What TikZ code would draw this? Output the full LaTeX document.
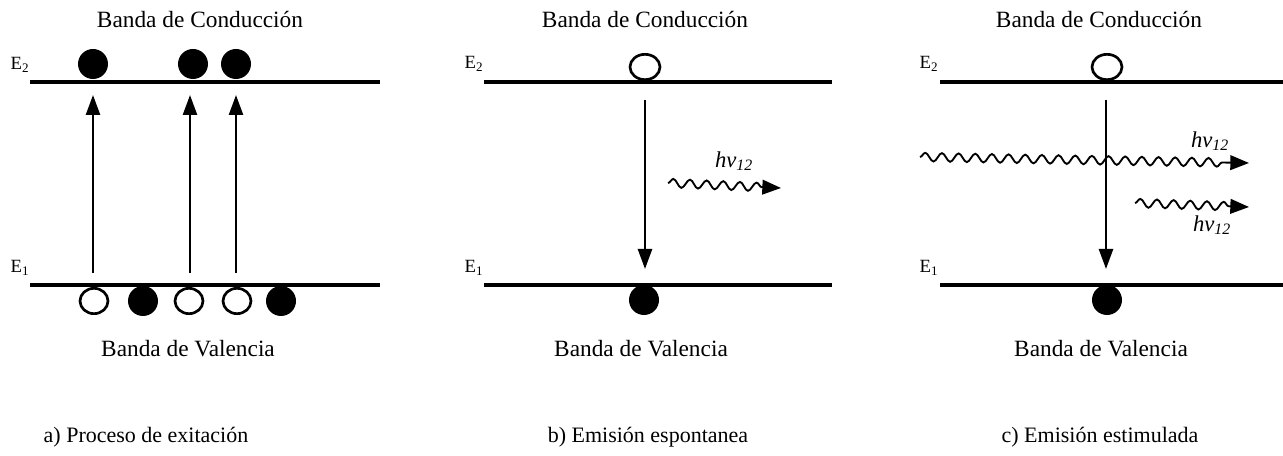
\documentclass[tikz,border=0pt]{standalone}
\usepackage{fontspec}
\setmainfont{Liberation Serif}
\usetikzlibrary{arrows.meta,decorations.pathmorphing,shapes.geometric}
\begin{document}
\begin{tikzpicture}[x=0.75pt,y=-0.75pt,
  level/.style={line width=2.7pt},
  full/.style={circle,fill=black,minimum size=22.5pt,inner sep=0pt},
  hole/.style={ellipse,draw=black,line width=2pt,fill=white,minimum width=21pt,minimum height=19pt,inner sep=0pt},
  trans/.style={line width=1.9pt,-{Triangle[length=15pt,width=10.5pt]}},
  photon/.style={line width=1.4pt,decorate,decoration={snake,amplitude=3.2pt,segment length=12.5pt,post length=14pt},-{Triangle[length=14pt,width=11pt]}},
  band/.style={font=\fontsize{17.5}{20}\selectfont},
  capt/.style={font=\fontsize{16.5}{19}\selectfont},
  elev/.style={font=\fontsize{14}{16}\selectfont},
  hv/.style={font=\fontsize{17}{19}\selectfont\itshape}
]
\useasboundingbox (0,0) rectangle (1283,456);

% ---------------- panel a ----------------
\node[band] (a-cb) at (200,20) {Banda de Conducción};
\node[elev] (a-E2) at (20,65) {E\textsubscript{2}};
\node[elev] (a-E1) at (20,268) {E\textsubscript{1}};
\coordinate (a-l2s) at (30,82); \coordinate (a-l2e) at (380,82);
\coordinate (a-l1s) at (30,285); \coordinate (a-l1e) at (380,285);
\draw[level] (a-l2s) -- (a-l2e);
\draw[level] (a-l1s) -- (a-l1e);
\node[full] (a-t1) at (93,64) {};
\node[full] (a-t2) at (193,64) {};
\node[full] (a-t3) at (236,64) {};
\node[hole] (a-b1) at (94,301) {};
\node[full] (a-b2) at (143,301) {};
\node[hole] (a-b3) at (189,301) {};
\node[hole] (a-b4) at (237,301) {};
\node[full] (a-b5) at (281,301) {};
\coordinate (a-s1) at (93,273); \coordinate (a-e1) at (93,95);
\coordinate (a-s2) at (190,273); \coordinate (a-e2) at (190,95);
\coordinate (a-s3) at (236,273); \coordinate (a-e3) at (236,95);
\draw[trans] (a-s1) -- (a-e1);
\draw[trans] (a-s2) -- (a-e2);
\draw[trans] (a-s3) -- (a-e3);
\node[band] (a-vb) at (188,349) {Banda de Valencia};
\node[capt] (a-cap) at (146,437) {a) Proceso de exitación};

% ---------------- panel b ----------------
\node[band] (b-cb) at (645,20) {Banda de Conducción};
\node[elev] (b-E2) at (474,64) {E\textsubscript{2}};
\node[elev] (b-E1) at (474,268) {E\textsubscript{1}};
\coordinate (b-l2s) at (484,82); \coordinate (b-l2e) at (832,82);
\coordinate (b-l1s) at (484,285); \coordinate (b-l1e) at (832,285);
\draw[level] (b-l2s) -- (b-l2e);
\draw[level] (b-l1s) -- (b-l1e);
\node[hole,minimum width=22.5pt,minimum height=19pt] (b-h) at (645,67) {};
\node[full] (b-e) at (644,300) {};
\coordinate (b-s) at (645,100); \coordinate (b-t) at (645,269);
\draw[trans] (b-s) -- (b-t);
\coordinate (b-ps) at (668,183); \coordinate (b-pe) at (781,188);
\draw[photon] (b-ps) -- (b-pe);
\node[hv] (b-hv) at (734,161) {hν\textsubscript{12}};
\node[band] (b-vb) at (641,349) {Banda de Valencia};
\node[capt] (b-cap) at (648,437) {b) Emisión espontanea};

% ---------------- panel c ----------------
\node[band] (c-cb) at (1099,20) {Banda de Conducción};
\node[elev] (c-E2) at (929,64) {E\textsubscript{2}};
\node[elev] (c-E1) at (929,268) {E\textsubscript{1}};
\coordinate (c-l2s) at (940,82); \coordinate (c-l2e) at (1283,82);
\coordinate (c-l1s) at (940,285); \coordinate (c-l1e) at (1283,285);
\draw[level] (c-l2s) -- (c-l2e);
\draw[level] (c-l1s) -- (c-l1e);
\node[hole,minimum width=22.5pt,minimum height=19pt] (c-h) at (1107,67) {};
\node[full] (c-e) at (1107,300) {};
\coordinate (c-s) at (1106,100); \coordinate (c-t) at (1106,269);
\draw[trans] (c-s) -- (c-t);
\coordinate (c-p1s) at (920,157); \coordinate (c-p1e) at (1249,163);
\draw[photon] (c-p1s) -- (c-p1e);
\coordinate (c-p2s) at (1135,203); \coordinate (c-p2e) at (1249,207);
\draw[photon] (c-p2s) -- (c-p2e);
\node[hv] (c-hv1) at (1210,141) {hν\textsubscript{12}};
\node[hv] (c-hv2) at (1212,225) {hν\textsubscript{12}};
\node[band] (c-vb) at (1101,349) {Banda de Valencia};
\node[capt] (c-cap) at (1100,437) {c) Emisión estimulada};
\end{tikzpicture}
\end{document}
